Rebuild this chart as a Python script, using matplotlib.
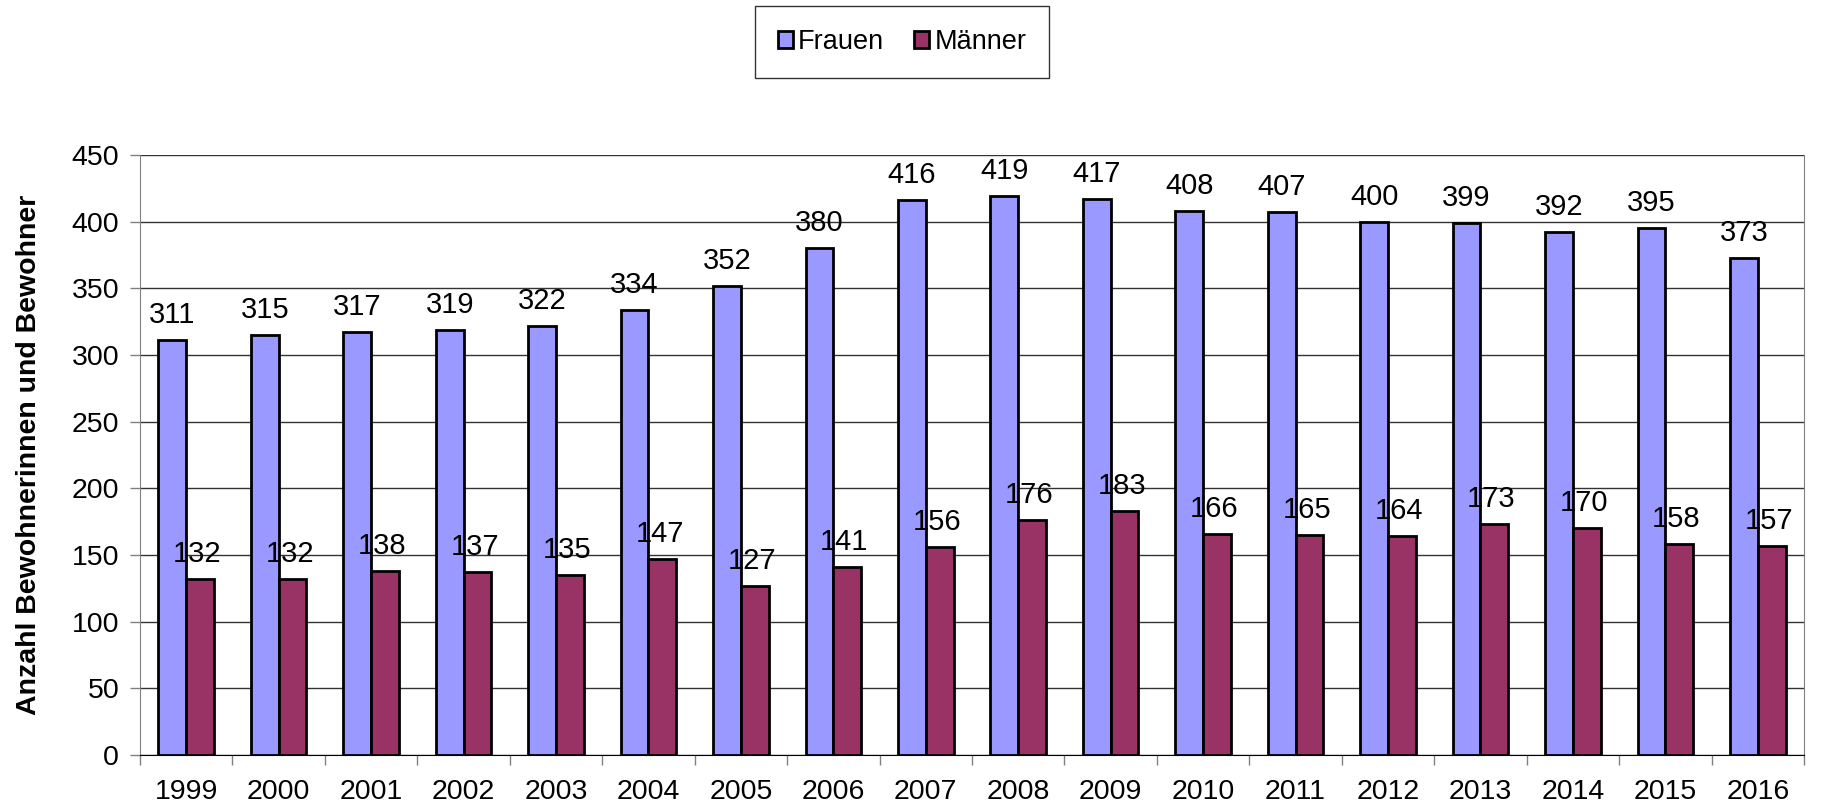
import matplotlib
matplotlib.use("Agg")
import matplotlib.pyplot as plt
import numpy as np

years = ["1999", "2000", "2001", "2002", "2003", "2004", "2005", "2006", "2007",
         "2008", "2009", "2010", "2011", "2012", "2013", "2014", "2015", "2016"]
frauen = [311, 315, 317, 319, 322, 334, 352, 380, 416, 419, 417, 408, 407, 400, 399, 392, 395, 373]
maenner = [132, 132, 138, 137, 135, 147, 127, 141, 156, 176, 183, 166, 165, 164, 173, 170, 158, 157]

plt.rcParams["font.family"] = ["Liberation Sans", "DejaVu Sans"]

fig = plt.figure(figsize=(18.27, 8.05), dpi=100)
ax = fig.add_axes([140 / 1827, 50 / 805, 1664 / 1827, 600 / 805])

x = np.arange(len(years))
w = 0.3
b1 = ax.bar(x - w / 2, frauen, w, color="#9999FF", edgecolor="black", linewidth=2,
            label="Frauen", zorder=3)
b2 = ax.bar(x + w / 2, maenner, w, color="#993366", edgecolor="black", linewidth=2,
            label="Männer", zorder=3)

for xi, v in zip(x - w / 2, frauen):
    ax.annotate(str(v), (xi, v), xytext=(0, 8), textcoords="offset points",
                ha="center", va="bottom", fontsize=21)
for xi, v in zip(x + w / 2, maenner):
    ax.annotate(str(v), (xi, v), xytext=(-2, 8), textcoords="offset points",
                ha="center", va="bottom", fontsize=21)

ax.set_xlim(-0.5, len(years) - 0.5)
ax.set_ylim(0, 450)
ax.set_yticks(range(0, 451, 50))
ax.set_xticks(x)
ax.set_xticklabels(years)
ax.set_xticks(np.arange(-0.5, len(years), 1), minor=True)
ax.tick_params(axis="x", which="major", length=0, labelsize=20.5, pad=17)
ax.tick_params(axis="x", which="minor", length=7, width=1, color="#808080")
ax.tick_params(axis="y", length=7, width=1, color="#808080", labelsize=20.5, pad=8)
ax.yaxis.grid(True, color="#333333", linewidth=1, zorder=0)
ax.spines["top"].set_visible(False)
ax.spines["right"].set_color("#808080")
ax.spines["left"].set_color("#808080")
ax.spines["bottom"].set_color("black")
ax.set_ylabel("Anzahl Bewohnerinnen und Bewohner", fontsize=20.5, fontweight="bold",
              labelpad=21)

leg = fig.legend(handles=[b1, b2], loc="center", bbox_to_anchor=(902 / 1827, 1 - 42 / 805),
                 ncol=2, fontsize=19.5, frameon=True, fancybox=False, handlelength=0.55,
                 handleheight=0.55, handletextpad=0.2, columnspacing=1.1,
                 borderpad=0.85)
leg.get_frame().set_edgecolor("black")
leg.get_frame().set_linewidth(1)

fig.savefig("out.png", dpi=100)
